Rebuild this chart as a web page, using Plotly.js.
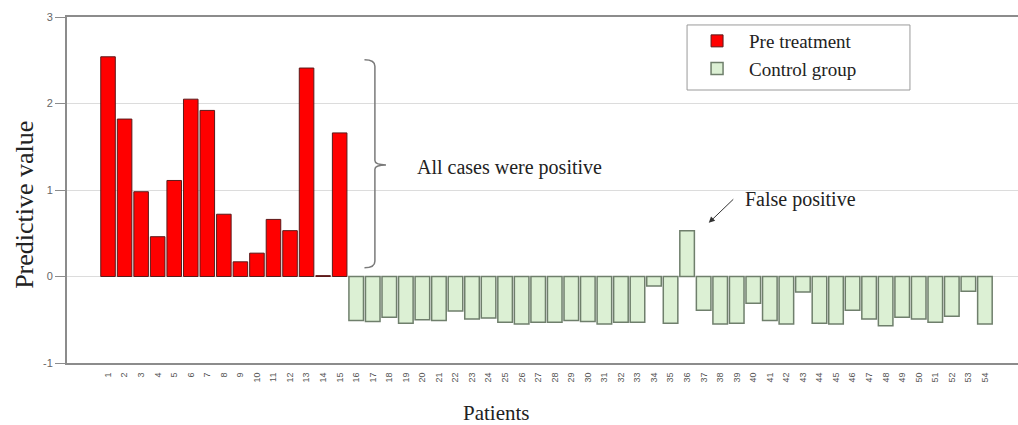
<!DOCTYPE html>
<html>
<head>
<meta charset="utf-8">
<script src="https://cdn.plot.ly/plotly-3.0.1.min.js"></script>
<style>html,body{margin:0;padding:0;background:#fff;}#chart{width:1018px;height:425px;}</style>
</head>
<body>
<div id="chart"></div>
<script>
// Patient numbers (categories)
const prePatients = [1,2,3,4,5,6,7,8,9,10,11,12,13,14,15];
const preValues = [2.54,1.82,0.98,0.46,1.11,2.05,1.92,0.72,0.17,0.27,0.66,0.53,2.41,0.01,1.66];

const ctrlPatients = [16,17,18,19,20,21,22,23,24,25,26,27,28,29,30,31,32,33,34,35,
                      36,37,38,39,40,41,42,43,44,45,46,47,48,49,50,51,52,53,54];
const ctrlValues = [-0.51,-0.52,-0.47,-0.54,-0.50,-0.51,-0.40,-0.49,-0.48,-0.53,
                    -0.55,-0.53,-0.53,-0.51,-0.52,-0.55,-0.53,-0.53,-0.11,-0.54,
                    0.53,-0.39,-0.55,-0.54,-0.31,-0.51,-0.55,-0.18,-0.54,-0.55,
                    -0.39,-0.49,-0.57,-0.47,-0.49,-0.53,-0.46,-0.17,-0.55];

const tickValues = prePatients.concat(ctrlPatients);
const tickLabels = tickValues.map(String);

const seriesNames = ['Pre treatment', 'Control group'];
const yTickValues = [-1, 0, 1, 2, 3];
const yTickLabels = ['-1', '0', '1', '2', '3'];

const serif = 'Liberation Serif, Times New Roman, serif';
const sans = 'Liberation Sans, Arial, sans-serif';

const traces = [
  {
    type: 'bar', name: seriesNames[0], x: prePatients, y: preValues, width: 0.88,
    marker: {color: '#ff0000', line: {color: '#5a1a1a', width: 1}}
  },
  {
    type: 'bar', name: seriesNames[1], x: ctrlPatients, y: ctrlValues, width: 0.88,
    marker: {color: '#dcf0d4', line: {color: '#6f7f6c', width: 1.5}}
  }
];

const layout = {
  width: 1018, height: 425,
  margin: {l: 67, r: 0, t: 17, b: 62},
  paper_bgcolor: '#ffffff', plot_bgcolor: '#ffffff',
  barmode: 'overlay',
  showlegend: true,
  legend: {
    x: 0.652, y: 0.9855, xanchor: 'left', yanchor: 'top',
    borderwidth: 0, bgcolor: 'rgba(0,0,0,0)',
    font: {family: serif, size: 19, color: '#222'},
    indentation: -2, itemwidth: 54, tracegroupgap: 0
  },
  xaxis: {
    range: [-1.48, 56.0],
    tickmode: 'array', tickvals: tickValues, ticktext: tickLabels,
    tickangle: -90, tickfont: {family: sans, size: 9, color: '#555'},
    ticks: '', showgrid: false, zeroline: false,
    showline: true, linecolor: '#8c8c8c', linewidth: 2, mirror: true,
    ticklabelstandoff: 4
  },
  yaxis: {
    range: [-1, 3],
    tickmode: 'array', tickvals: yTickValues, ticktext: yTickLabels,
    tickfont: {family: sans, size: 11, color: '#666'},
    ticks: 'outside', ticklen: 10, tickcolor: '#8c8c8c', tickwidth: 1,
    showgrid: true, gridcolor: '#dcdcdc', gridwidth: 1, zeroline: false,
    showline: true, linecolor: '#8c8c8c', linewidth: 2
  },
  annotations: [
    {xref: 'paper', yref: 'paper', x: -0.0442, y: 0.457, xanchor: 'center', yanchor: 'middle',
     text: 'Predictive value', textangle: -90, showarrow: false,
     font: {family: serif, size: 26, color: '#222'}},
    {xref: 'paper', yref: 'paper', x: 0.452, y: -0.1445, xanchor: 'center', yanchor: 'middle',
     text: 'Patients', showarrow: false, font: {family: serif, size: 21, color: '#222'}},
    {xref: 'x', yref: 'y', x: 19.55, y: 1.257, xanchor: 'left', text: 'All cases were positive',
     showarrow: false, font: {family: serif, size: 20, color: '#222'}},
    {xref: 'x', yref: 'y', x: 39.37, y: 0.887, xanchor: 'left', text: 'False positive',
     showarrow: false, font: {family: serif, size: 20, color: '#222'}},
    {xref: 'x', yref: 'y', x: 37.31, y: 0.62, ax: 26, ay: -25, text: '',
     showarrow: true, arrowhead: 2, arrowsize: 1.2, arrowwidth: 1, arrowcolor: '#333'}
  ],
  shapes: [
    {type: 'path', xref: 'x', yref: 'y',
     path: 'M 16.5,2.505 Q 17.13,2.505 17.13,2.43 L 17.13,1.34 Q 17.13,1.29 17.8,1.29 Q 17.13,1.29 17.13,1.24 L 17.13,0.175 Q 17.13,0.10 16.5,0.10',
     line: {color: '#7a7a7a', width: 1.5}},
    {type: 'rect', xref: 'paper', yref: 'paper', x0: 0.652, x1: 0.8864, y0: 0.789, y1: 0.977,
     line: {color: '#9a9a9a', width: 1}, fillcolor: 'rgba(0,0,0,0)'}
  ]
};

Plotly.newPlot('chart', traces, layout, {displayModeBar: false, staticPlot: true});
</script>
</body>
</html>
